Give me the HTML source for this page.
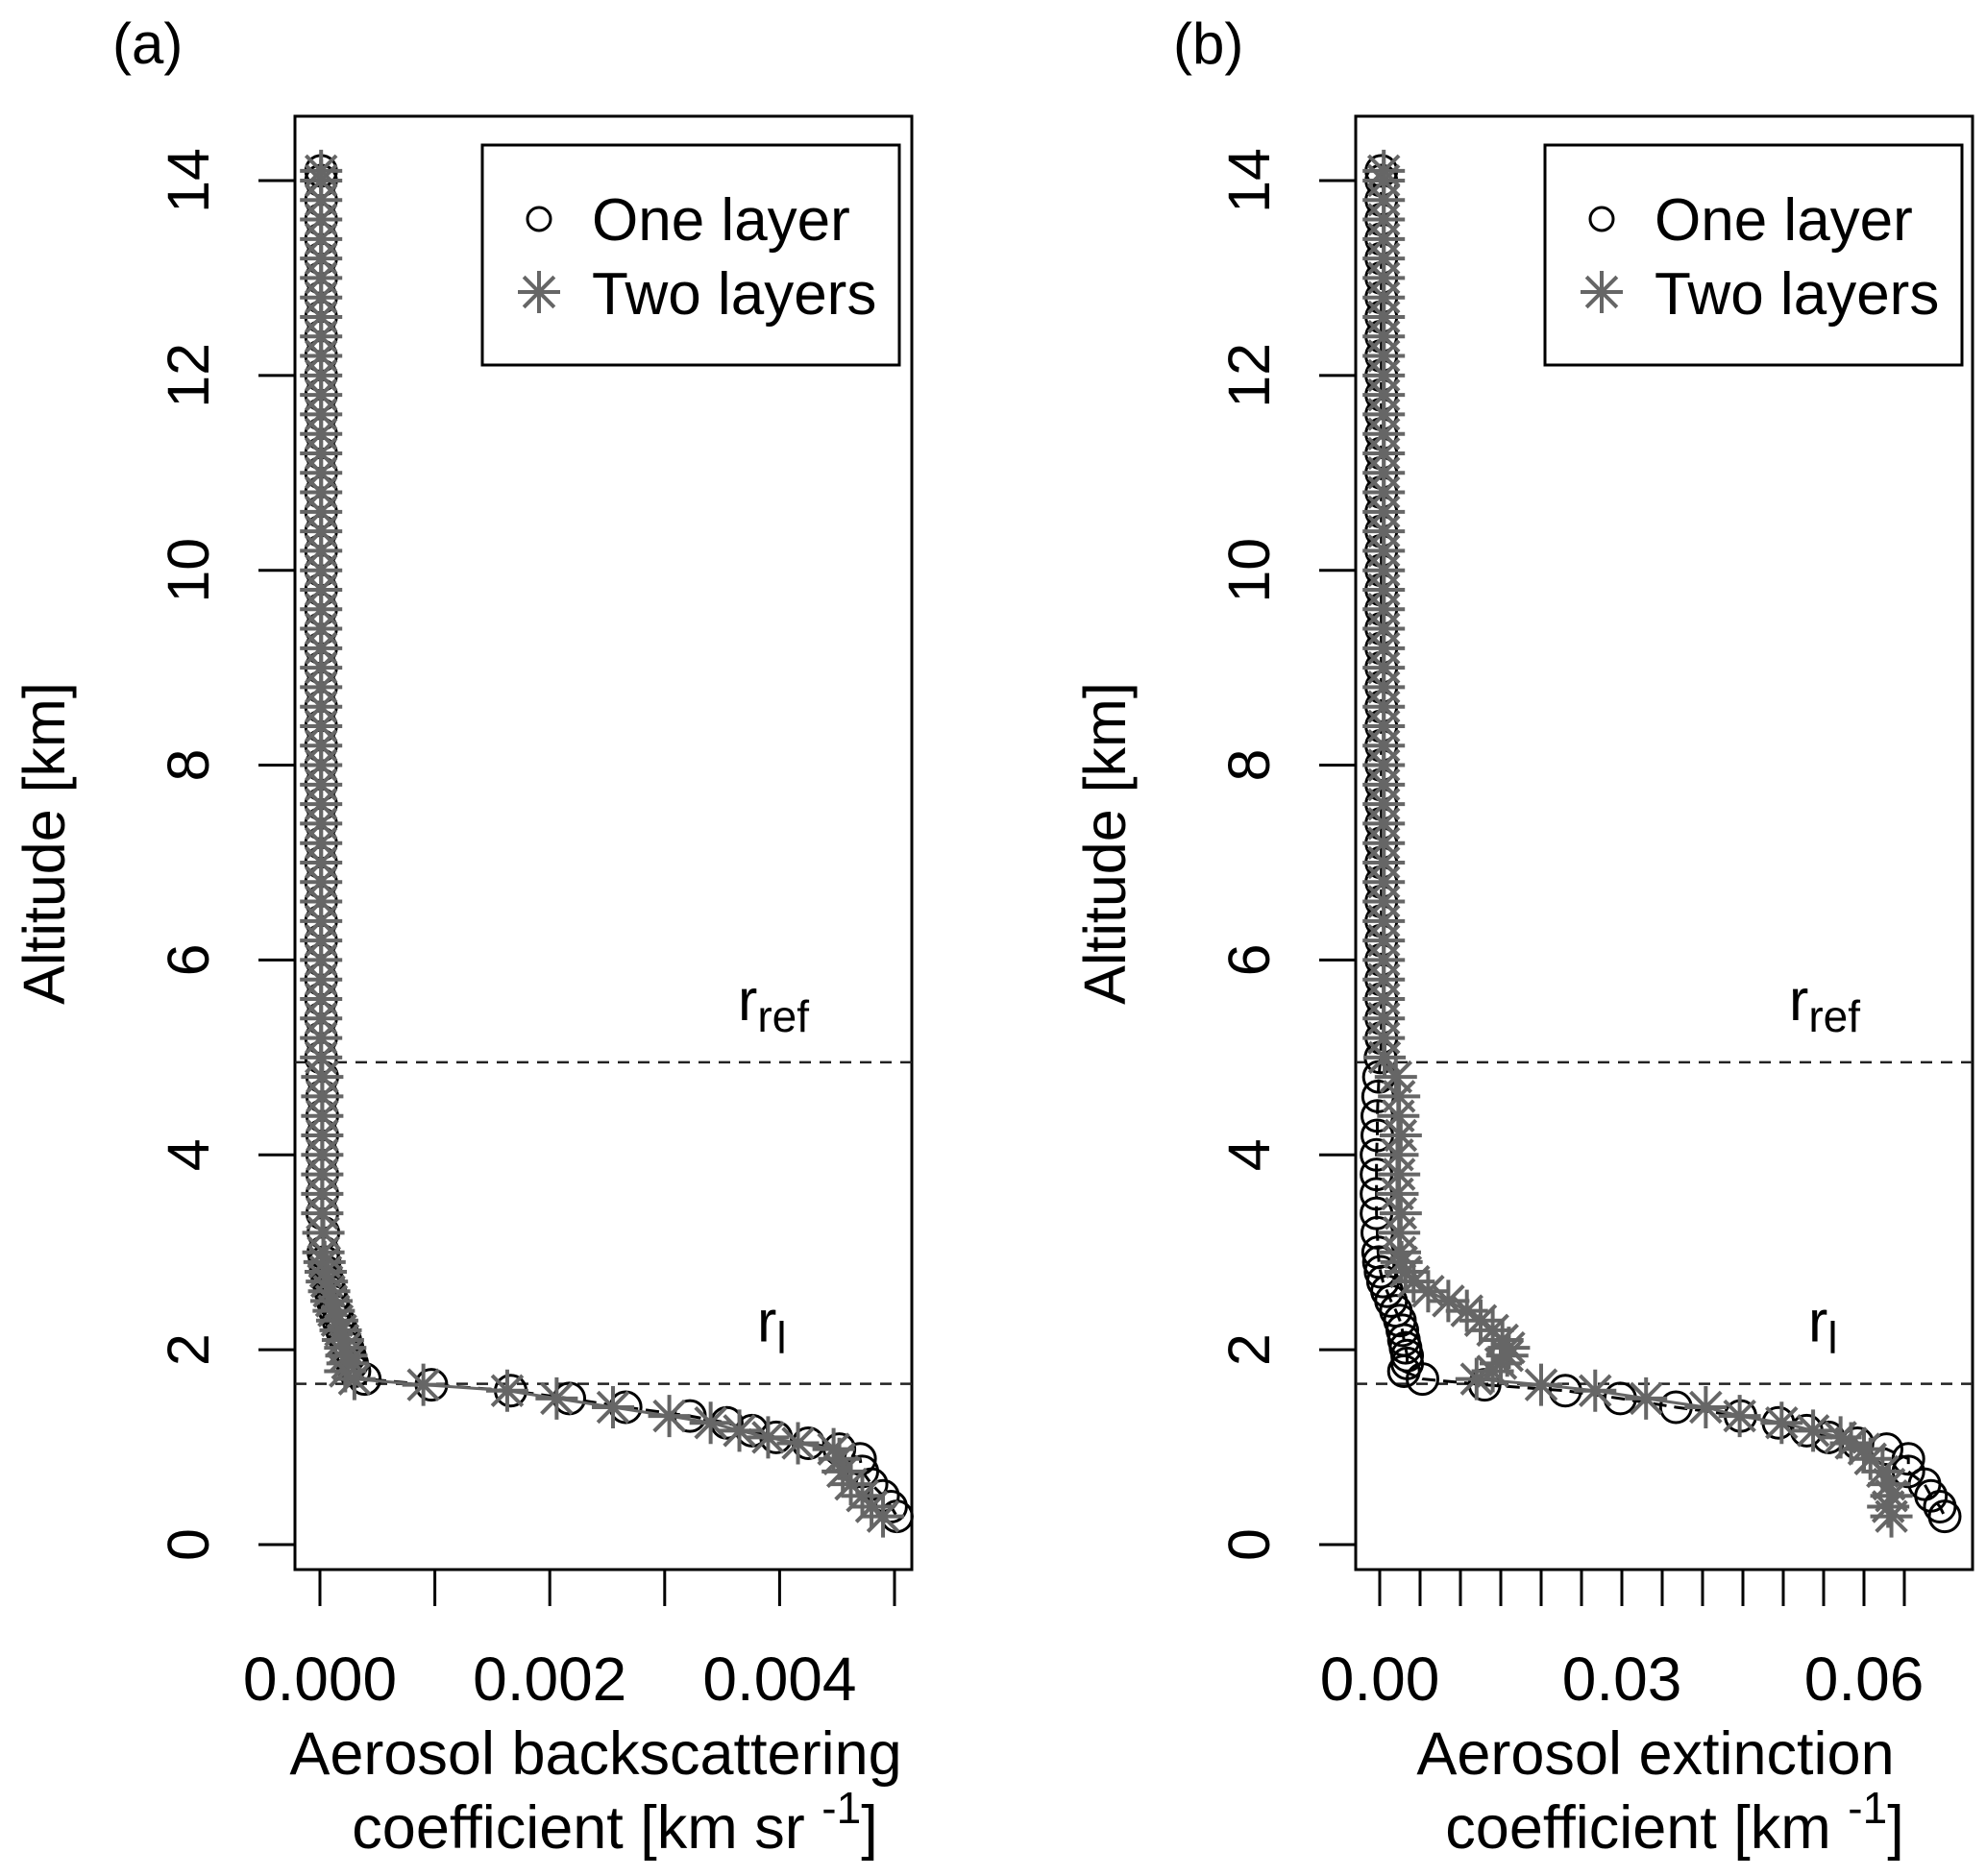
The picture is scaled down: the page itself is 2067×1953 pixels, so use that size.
<!DOCTYPE html>
<html><head><meta charset="utf-8"><style>
html,body{margin:0;padding:0;background:#fff;}
svg{display:block;font-family:"Liberation Sans",sans-serif;}
</style></head><body>
<svg id="fig" width="2067" height="1953" viewBox="0 0 2067 1953" xmlns="http://www.w3.org/2000/svg"></svg>
<script>
// shared altitude grid (km)
const lowAlt = [1.70,1.64,1.58,1.50,1.41,1.32,1.25,1.17,1.10,1.04,0.98,0.88,0.75,0.62,0.50,0.39,0.29];
const transAlt = [1.78,1.86,1.94,2.02,2.10,2.20,2.30,2.40,2.50,2.60,2.70,2.80,2.90];
const bandAlt = [3.0,3.2,3.4,3.6,3.8,4.0,4.2,4.4,4.6,4.8,5.0,5.2,5.4,5.6,5.8,6.0,6.2,6.4,6.6,6.8,7.0,7.2,7.4,7.6,7.8,8.0,8.2,8.4,8.6,8.8,9.0,9.2,9.4,9.6,9.8,10.0,10.2,10.4,10.6,10.8,11.0,11.2,11.4,11.6,11.8,12.0,12.2,12.4,12.6,12.8,13.0,13.2,13.4,13.6,13.8,14.0,14.1];

// panel (a) backscatter, one layer
const aOneLow = [0.00039,0.00097,0.00166,0.00217,0.00266,0.00322,0.00354,0.00376,0.00397,0.00425,0.00452,0.00470,0.00472,0.00480,0.00490,0.00497,0.00502];
const aOneTrans = [0.00030,0.00028,0.00026,0.00024,0.00022,0.00019,0.00016,0.00013,0.00011,0.00009,0.00007,0.00005,0.00004];
const aOneBand = [0.00003,0.00003,0.00002,0.00002,0.00002,0.00002,0.00002,0.00002,0.00002,0.00002,0.00001,0.00001,0.00001,0.00001,0.00001,0.00001,0.00001,0.00001,0.00001,0.00001,0.00001,0.00001,0.00001,0.00001,0.00001,0.00001,0.00001,0.00001,0.00001,0.00001,0.00001,0.00001,0.00001,0.00001,0.00001,0.00001,0.00001,0.00001,0.00001,0.00001,0.00001,0.00001,0.00001,0.00001,0.00001,0.00001,0.00001,0.00001,0.00001,0.00001,0.00001,0.00001,0.00001,0.00001,0.00001,0.00001,0.00001];
// panel (a) backscatter, two layers
const aTwoLow = [0.00030,0.00090,0.00163,0.00206,0.00255,0.00304,0.00340,0.00365,0.00390,0.00416,0.00447,0.00452,0.00455,0.00462,0.00472,0.00480,0.00490];
const aTwoTrans = [0.00022,0.00024,0.00023,0.00022,0.00020,0.00018,0.00015,0.00012,0.00010,0.00008,0.00006,0.00005,0.00004];
const aTwoBand = aOneBand.slice();

// panel (b) extinction, one layer
const bOneLow = [0.0053,0.0130,0.0230,0.0298,0.0367,0.0447,0.0494,0.0529,0.0556,0.0592,0.0628,0.0655,0.0655,0.0675,0.0683,0.0694,0.0700];
const bOneTrans = [0.0030,0.0034,0.0034,0.0032,0.0030,0.0028,0.0025,0.0020,0.0014,0.0009,0.0004,0.0001,-0.0001];
const bOneBand = [-0.0002,-0.0003,-0.0004,-0.0004,-0.0004,-0.0004,-0.0003,-0.0003,-0.0002,-0.0001,0.0001,0.0002,0.0002,0.0002,0.0002,0.0002,0.0002,0.0002,0.0002,0.0002,0.0002,0.0002,0.0002,0.0002,0.0002,0.0002,0.0002,0.0002,0.0002,0.0002,0.0002,0.0002,0.0002,0.0002,0.0002,0.0002,0.0002,0.0002,0.0002,0.0002,0.0002,0.0002,0.0002,0.0002,0.0002,0.0002,0.0002,0.0002,0.0002,0.0002,0.0002,0.0002,0.0002,0.0002,0.0002,0.0002,0.0002];
// panel (b) extinction, two layers
const bTwoLow = [0.0120,0.0200,0.0267,0.0330,0.0404,0.0446,0.0498,0.0537,0.0571,0.0584,0.0600,0.0608,0.0623,0.0631,0.0634,0.0630,0.0634];
const bTwoTrans = [0.0140,0.0150,0.0158,0.0160,0.0152,0.0140,0.0125,0.0108,0.0085,0.0060,0.0042,0.0032,0.0027];
const bTwoBand = [0.0025,0.0024,0.0026,0.0022,0.0024,0.0022,0.0026,0.0023,0.0024,0.0020,0.0006,0.0005,0.0005,0.0005,0.0005,0.0005,0.0005,0.0005,0.0005,0.0005,0.0005,0.0005,0.0005,0.0005,0.0005,0.0005,0.0005,0.0005,0.0005,0.0005,0.0005,0.0005,0.0005,0.0005,0.0005,0.0005,0.0005,0.0005,0.0005,0.0005,0.0005,0.0005,0.0005,0.0005,0.0005,0.0005,0.0005,0.0005,0.0005,0.0005,0.0005,0.0005,0.0005,0.0005,0.0005,0.0005,0.0005];

const yTicks = [0,2,4,6,8,10,12,14];
const aXTicks = [0,0.001,0.002,0.003,0.004,0.005];
const aXLabels = ["0.000","0.002","0.004"];
const aXLabelVals = [0,0.002,0.004];
const bXTicks = [0,0.005,0.01,0.015,0.02,0.025,0.03,0.035,0.04,0.045,0.05,0.055,0.06,0.065];
const bXLabels = ["0.00","0.03","0.06"];
const bXLabelVals = [0,0.03,0.06];
const refAlt = 4.95, lAlt = 1.65;

const NS="http://www.w3.org/2000/svg";
const svg=document.getElementById('fig');
function el(tag,attrs,parent){const e=document.createElementNS(NS,tag);for(const k in attrs)e.setAttribute(k,attrs[k]);(parent||svg).appendChild(e);return e;}
const yScale=a=>1608-a*101.43;
const Y0=121,Y1=1634;
const FS=61;

function starPath(x,y,r){const d=r*0.72;return `M${x-r} ${y}H${x+r}M${x} ${y-r}V${y+r}M${x-d} ${y-d}L${x+d} ${y+d}M${x-d} ${y+d}L${x+d} ${y-d}`;}

function panel(p){
  const g=el('g',{});
  
  
  const xs=v=>p.x0px+v*p.k;
  const tag=el('text',{x:p.left-190,y:66,'font-size':60},g);tag.textContent=p.tag;
  
  
  const box=el('rect',{x:p.left,y:Y0,width:p.right-p.left,height:Y1-Y0,fill:'none',stroke:'#000','stroke-width':3},g);
  
  
  yTicks.forEach(t=>{
    const y=yScale(t);
    el('line',{x1:p.left-38,x2:p.left,y1:y,y2:y,stroke:'#000','stroke-width':3},g);
    const tx=el('text',{x:0,y:0,'font-size':FS,'text-anchor':'middle',transform:`translate(${p.left-90},${y}) rotate(-90)`},g);
    tx.textContent=String(t);
    
    
  });
  const yt=el('text',{x:0,y:0,'font-size':FS,'text-anchor':'middle',transform:`translate(${p.left-240},878) rotate(-90)`},g);
  yt.textContent='Altitude [km]';
  
  
  p.ticks.forEach(t=>{const x=xs(t);el('line',{x1:x,x2:x,y1:Y1,y2:Y1+38,stroke:'#000','stroke-width':3},g);});
  p.labels.forEach((l,i)=>{
    const tx=el('text',{x:xs(p.labelVals[i]),y:1770,'font-size':FS+3,'text-anchor':'middle'},g);tx.textContent=l;
    
    
  });
  const t1=el('text',{x:p.titleX,y:1847,'font-size':FS+2,'text-anchor':'middle'},g);t1.textContent=p.title1;
  
  
  const t2=el('text',{x:p.titleX+20,y:1924,'font-size':FS+2,'text-anchor':'middle'},g);
  
  
  t2.innerHTML=p.title2+' <tspan font-size="46" dy="-26">-1</tspan><tspan dy="26">]</tspan>';
  [[refAlt,'ref',p.refX],[lAlt,'l',p.lX]].forEach(([a,s,lx])=>{
    const y=yScale(a);
    const ln=el('line',{x1:p.left,x2:p.right,y1:y,y2:y,stroke:'#222','stroke-width':2.5,'stroke-dasharray':'12,9'},g);
    
    
    const lt=el('text',{x:lx,y:y-44,'font-size':FS},g);
    lt.innerHTML='r<tspan font-size="46" dy="12">'+s+'</tspan>';
    
    
  });
  function series(low,trans,band,kind){
    const alts=[...bandAlt.slice().reverse(),...transAlt.slice().reverse(),...lowAlt];
    const vals=[...band.slice().reverse(),...trans.slice().reverse(),...low];
    const sg=el('g',{},g);
    
    
    const pts=alts.map((a,i)=>xs(vals[i])+','+yScale(a)).join(' ');
    el('polyline',{points:pts,fill:'none',stroke:kind==='c'?'#000':'#666','stroke-width':3,'stroke-dasharray':kind==='c'?'14,8':'none'},sg);
    alts.forEach((a,i)=>{
      const x=xs(vals[i]),y=yScale(a);
      if(kind==='c'){
        const c=el('circle',{cx:x,cy:y,r:16,fill:'none',stroke:'#000','stroke-width':3},sg);
        
        
      } else {
        const s=el('path',{d:starPath(x,y,22),stroke:'#666','stroke-width':4,fill:'none'},sg);
        
        
      }
    });
  }
  series(p.oneLow,p.oneTrans,p.oneBand,'c');
  series(p.twoLow,p.twoTrans,p.twoBand,'s');
  const lg=el('g',{},g);
  
  
  el('rect',{x:p.legX,y:151,width:434,height:229,fill:'#fff',stroke:'#000','stroke-width':3},lg);
  el('circle',{cx:p.legX+59,cy:228,r:12,fill:'none',stroke:'#000','stroke-width':3},lg);
  el('path',{d:starPath(p.legX+59,304,22),stroke:'#666','stroke-width':4},lg);
  const e1=el('text',{x:p.legX+114,y:250,'font-size':FS+1},lg);e1.textContent='One layer';
  
  
  const e2=el('text',{x:p.legX+114,y:327,'font-size':FS+1},lg);e2.textContent='Two layers';
  
  
}

panel({id:'backscatter',tag:'(a)',left:307,right:949,x0px:333,k:119600,ticks:aXTicks,labels:aXLabels,labelVals:aXLabelVals,
  title1:'Aerosol backscattering',title2:'coefficient [km sr',titleX:620,refX:768,lX:788,legX:502,
  oneLow:aOneLow,oneTrans:aOneTrans,oneBand:aOneBand,twoLow:aTwoLow,twoTrans:aTwoTrans,twoBand:aTwoBand});
panel({id:'extinction',tag:'(b)',left:1411,right:2053,x0px:1436,k:8400,ticks:bXTicks,labels:bXLabels,labelVals:bXLabelVals,
  title1:'Aerosol extinction',title2:'coefficient [km',titleX:1723,refX:1862,lX:1882,legX:1608,
  oneLow:bOneLow,oneTrans:bOneTrans,oneBand:bOneBand,twoLow:bTwoLow,twoTrans:bTwoTrans,twoBand:bTwoBand});
</script>
</body></html>
